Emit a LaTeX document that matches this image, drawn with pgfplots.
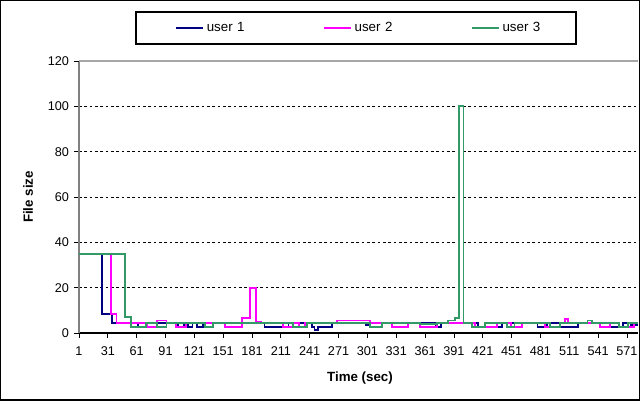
\documentclass[border=0pt]{standalone}
\usepackage{fontspec}
\setmainfont{Liberation Sans}
\usepackage{pgfplots}
\pgfplotsset{compat=1.18}
\definecolor{u1col}{RGB}{0,0,128}
\definecolor{u2col}{RGB}{255,0,255}
\definecolor{u3col}{RGB}{51,153,102}

\begin{document}
\begin{tikzpicture}
\path[use as bounding box] (0,0) rectangle (480pt,303.75pt);
\begin{axis}[
    at={(59.25pt,54pt)}, anchor=south west,
    scale only axis,
    width=419.25pt, height=204pt,
    xmin=1, xmax=582.5,
    ymin=0, ymax=120,
    axis x line=bottom, axis y line=left,
    axis line style={-},
    x axis line style={black, line width=2.2pt},
    y axis line style={gray, line width=1.2pt},
    xtick={1,31,...,571},
    ytick={0,20,...,100},
    extra y ticks={120},
    extra y tick style={major grid style={solid, gray!70, line width=0.8pt}},
    tick align=outside,
    major tick length=4pt,
    every tick/.style={black, line width=0.6pt},
    ymajorgrids,
    major grid style={black, dash pattern=on 2pt off 2pt, line width=0.6pt},
    tick label style={font=\fontsize{9.5}{11}\selectfont},
    /pgf/number format/assume math mode=true,
    xticklabel style={yshift=-3pt},
    xlabel={\textbf{Time (sec)}},
    ylabel={\textbf{File size}},
    label style={font=\fontsize{10}{12}\selectfont},
    xlabel style={at={(axis description cs:0.5027,-0.1654)}, anchor=center},
    ylabel style={at={(axis description cs:-0.0912,0.5)}, anchor=center, rotate=0},
    const plot,
    legend columns=3,
    legend cell align=left,
    legend style={draw=none, fill=none, at={(axis description cs:0.1717,1.1213)}, anchor=west,
        inner sep=0pt, font=\fontsize{10}{12}\selectfont,
        /tikz/column sep=0pt,
        nodes={inner xsep=2pt, text width=85.25pt}},
    legend image code/.code={\draw[#1] (0pt,0pt) -- (20.25pt,0pt);},
]
\addplot[u1col, line width=1.4pt] coordinates {
(1,35)(25,8.5)(35,4.5)(62,2.5)(72,4.5)(104,2.5)(110,4.5)(114,2.5)(119,4.5)(124,2.5)(130,4.5)
(194,2.5)(213,4.5)(219,2.5)(224,4.5)(243,2.5)(246,1.3)(250,2.5)(264,4.5)(300,3.5)(304,4.5)
(372,2.5)(378,4.5)(416,2.5)(441,4.5)(478,2.5)(488,4.5)(501,2.5)(520,4.5)(553,2.5)(567,4.5)
(575,3.5)(583,3.5)
};
\addlegendentry{user 1}
\addplot[u2col, line width=1.4pt] coordinates {
(1,35)(34,8.5)(40,4.5)(72,2.5)(82,5.5)(92,4.5)(102,2.5)(112,4.5)(153,2.5)(171,6.5)(179,20)
(185,5)(190,4.5)(213,2.5)(224,4.5)(230,2.5)(236,4.5)(269,5.5)(304,4.5)(327,2.5)(343,4.5)
(356,2.5)(373,4.5)(413,2.5)(436,4.5)(450,2.5)(462,4.5)(486,2.5)(501,4.5)(507,6)(510,4.5)
(543,2.5)(553,4.5)(563,2.5)(578,4.5)(583,4.5)
};
\addlegendentry{user 2}
\addplot[u3col, line width=1.4pt] coordinates {
(1,35)(49,7)(55,2.5)(71,4.5)(82,2.5)(92,4.5)(132,2.5)(140,4.5)(224,2.5)(238,4.5)(304,2.5)
(316,4.5)(356,4)(373,4.5)(385,5.5)(392,6.5)(396,100)(401,4.5)(410,2.5)(423,4.5)(446,2.5)
(454,4.5)(491,2.5)(501,4.5)(530,5.5)(535,4.5)(563,2.5)(572,4.5)(583,4.5)
};
\addlegendentry{user 3}
\end{axis}
% legend box and chart frame
\draw[black, line width=0.8pt] (102pt,270.75pt) rectangle (432pt,294.75pt);
\draw[black, line width=0.8pt] (0.4pt,3.75pt) rectangle (479.4pt,303.4pt);
\end{tikzpicture}
\end{document}
